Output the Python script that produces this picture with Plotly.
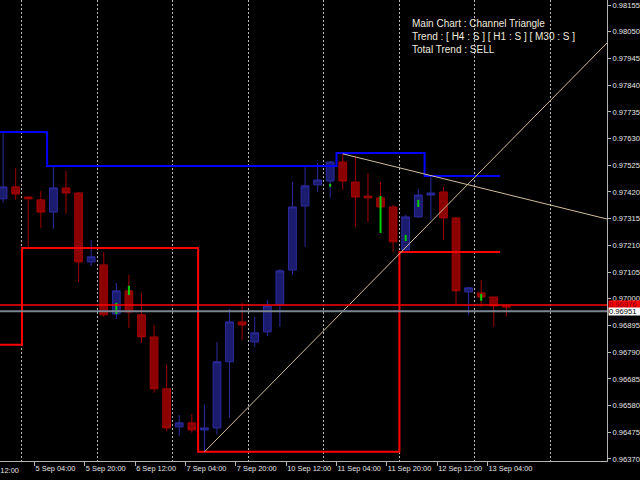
import plotly.graph_objects as go

# ---------------- data (H4 bars, bar index 0 = 4 Sep 16:00) ----------------
open_ = [0.97393, 0.97440, 0.97400, 0.97389, 0.97341, 0.97436, 0.97416, 0.97145, 0.97133, 0.96940,
         0.97031, 0.96937, 0.96850, 0.96646, 0.96496, 0.96512, 0.96484, 0.96492, 0.96752, 0.96909,
         0.96830, 0.96870, 0.96976, 0.97113, 0.97365, 0.97448, 0.97463, 0.97538, 0.97459, 0.97404,
         0.97397, 0.97361, 0.97192, 0.97322, 0.97408, 0.97420, 0.97318, 0.97027, 0.97023, 0.97007, 0.96972]
high = [0.97656, 0.97515, 0.97402, 0.97424, 0.97518, 0.97503, 0.97420, 0.97231, 0.97184, 0.97062,
        0.97094, 0.97023, 0.96897, 0.96740, 0.96543, 0.96547, 0.96583, 0.96830, 0.96960, 0.96984,
        0.96929, 0.96996, 0.97117, 0.97459, 0.97518, 0.97534, 0.97542, 0.97570, 0.97558, 0.97495,
        0.97459, 0.97369, 0.97330, 0.97432, 0.97483, 0.97440, 0.97318, 0.97047, 0.97074, 0.97007, 0.96976]
low = [0.97377, 0.97389, 0.97200, 0.97279, 0.97275, 0.97334, 0.97066, 0.97129, 0.96929, 0.96921,
       0.96885, 0.96826, 0.96630, 0.96480, 0.96461, 0.96473, 0.96398, 0.96465, 0.96532, 0.96838,
       0.96811, 0.96854, 0.96889, 0.97094, 0.97204, 0.97420, 0.97397, 0.97428, 0.97283, 0.97302,
       0.97259, 0.97184, 0.97192, 0.97318, 0.97310, 0.97231, 0.96976, 0.96937, 0.96968, 0.96889, 0.96929]
close = [0.97440, 0.97412, 0.97393, 0.97341, 0.97436, 0.97416, 0.97145, 0.97165, 0.96937, 0.97031,
         0.96948, 0.96850, 0.96646, 0.96492, 0.96512, 0.96484, 0.96492, 0.96752, 0.96909, 0.96897,
         0.96866, 0.96972, 0.97110, 0.97361, 0.97444, 0.97467, 0.97538, 0.97463, 0.97400, 0.97397,
         0.97361, 0.97224, 0.97322, 0.97408, 0.97416, 0.97318, 0.97031, 0.97043, 0.97007, 0.96972, 0.96968]
bars = list(range(len(open_)))

# time labels (bar index of labelled bar) and day boundaries (bar index of 00:00 bar)
label_bars = [3, 7, 11, 15, 19, 23, 27, 31, 35, 39]
label_text = ["5 Sep 04:00", "5 Sep 20:00", "6 Sep 12:00", "7 Sep 04:00", "7 Sep 20:00",
              "10 Sep 12:00", "11 Sep 04:00", "11 Sep 20:00", "12 Sep 12:00", "13 Sep 04:00"]
first_label = "4 Sep 12:00"
day_bars = [2, 8, 14, 20, 26, 32, 38, 44]

price_ticks = [0.98155, 0.98050, 0.97945, 0.97840, 0.97735, 0.97630, 0.97525, 0.97420, 0.97315,
               0.97210, 0.97105, 0.97000, 0.96895, 0.96790, 0.96685, 0.96580, 0.96475, 0.96370]

# channel step lines: start bar of each level, level value; last bar
blue_start = [-1, 4, 27, 34]
blue_level = [0.97656, 0.97522, 0.97573, 0.97483]
red_start = [-1, 2, 16, 32]
red_level = [0.96819, 0.97200, 0.96398, 0.97184]
last_bar = 39

# triangle trend lines (bar, price) pairs
tl1_bars = [16, 48.3]
tl1_price = [0.96398, 0.98021]
tl2_bars = [27, 48.3]
tl2_price = [0.97570, 0.97310]

# small green signal marks
green_bars = [9, 10, 26, 30, 32, 33, 38]
green_hi = [0.96984, 0.97051, 0.97452, 0.97404, 0.97251, 0.97389, 0.97019]
green_lo = [0.96940, 0.97015, 0.97440, 0.97259, 0.97227, 0.97361, 0.96992]

bid_price = 0.96951
red_price = 0.96976

info_lines = ["Main Chart : Channel Triangle",
              "Trend : [ H4 : S ] [ H1 : S ] [ M30 : S ]",
              "Total Trend : SELL"]

# ---------------- figure ----------------
FONT = "Liberation Sans"
AXC = "#B4B4B4"
TXT = "#E6E6E6"

fig = go.Figure()
fig.add_trace(go.Candlestick(
    x=bars, open=open_, high=high, low=low, close=close,
    increasing=dict(fillcolor="#1C1C6E", line=dict(color="#2C2CA0", width=1)),
    decreasing=dict(fillcolor="#8B0000", line=dict(color="#A00000", width=1)),
    whiskerwidth=0, hoverinfo="skip"))

def step_xy(starts, levels):
    xs = [b - 0.5 for b in starts] + [last_bar + 0.5]
    ys = list(levels) + [levels[-1]]
    return xs, ys

bx, by = step_xy(blue_start, blue_level)
fig.add_trace(go.Scatter(x=bx, y=by, mode="lines", line=dict(color="#0000FF", width=2, shape="hv"),
                         hoverinfo="skip"))
rx, ry = step_xy(red_start, red_level)
fig.add_trace(go.Scatter(x=rx, y=ry, mode="lines", line=dict(color="#FF0000", width=2, shape="hv"),
                         hoverinfo="skip"))

fig.add_trace(go.Scatter(x=tl1_bars, y=tl1_price, mode="lines",
                         line=dict(color="#D2BE9C", width=1), hoverinfo="skip"))
fig.add_trace(go.Scatter(x=tl2_bars, y=tl2_price, mode="lines",
                         line=dict(color="#D2BE9C", width=1), hoverinfo="skip"))

gx, gy = [], []
for b, h, l in zip(green_bars, green_hi, green_lo):
    gx += [b, b, None]
    gy += [h, l, None]
fig.add_trace(go.Scatter(x=gx, y=gy, mode="lines", line=dict(color="#00D000", width=2),
                         hoverinfo="skip"))

# horizontal price lines
fig.add_hline(y=red_price, line=dict(color="#FF0000", width=1.5), layer="above")
fig.add_hline(y=bid_price, line=dict(color="#7A8590", width=2), layer="above")

# price boxes on right axis
fig.add_annotation(xref="paper", yref="y", x=1, y=red_price, xanchor="left", xshift=1,
                   text="0.96976", showarrow=False, bgcolor="#FF0000", borderpad=0,
                   font=dict(family=FONT, size=7.6, color="#7A0000"), height=7, width=32, align="left")
fig.add_annotation(xref="paper", yref="y", x=1, y=bid_price, xanchor="left", xshift=1,
                   text="0.96951", showarrow=False, bgcolor="#FFFFFF", borderpad=0,
                   font=dict(family=FONT, size=7.6, color="#000000"), height=7, width=32, align="left")

# info text
fig.add_annotation(xref="paper", yref="paper", x=0.675, y=0.965, xanchor="left", yanchor="top",
                   text="<br>".join(info_lines), showarrow=False, align="left",
                   font=dict(family=FONT, size=10, color="#F0EADF"))

# first, partly hidden time label
fig.add_annotation(xref="paper", yref="paper", x=0, y=0, xanchor="right", yanchor="top",
                   xshift=21, yshift=-3, text=first_label, showarrow=False,
                   font=dict(family=FONT, size=7.4, color=TXT))

fig.update_layout(
    width=640, height=480, margin=dict(l=0, r=33, t=0, b=19, autoexpand=False),
    paper_bgcolor="#000000", plot_bgcolor="#000000", showlegend=False, boxgap=0.12,
    xaxis=dict(range=[-0.246, 48.0], rangeslider=dict(visible=False), showgrid=False,
               automargin=False, tickangle=0,
               zeroline=False, showline=True, linecolor=AXC, linewidth=1,
               ticks="outside", ticklen=4, tickcolor=AXC,
               tickmode="array", tickvals=[b - 0.5 for b in label_bars], ticktext=label_text,
               ticklabelposition="outside right",
               tickfont=dict(family=FONT, size=7.4, color=TXT),
               minor=dict(tickmode="array", tickvals=[b - 0.5 for b in day_bars], showgrid=True,
                          gridcolor="#B8B8B8", griddash="2px,2px", gridwidth=1, ticks="")),
    yaxis=dict(side="right", range=[0.96362, 0.98175], showgrid=False, zeroline=False,
               automargin=False,
               showline=True, linecolor=AXC, linewidth=1, ticks="outside", ticklen=3,
               tickcolor=AXC, tickmode="array", tickvals=price_ticks,
               ticktext=[f"{p:.5f}" for p in price_ticks],
               tickfont=dict(family=FONT, size=7.6, color=TXT)),
)

fig.write_html("out.html", config={"displayModeBar": False},
               post_script="document.body.style.margin='0';document.body.style.overflow='hidden';")
